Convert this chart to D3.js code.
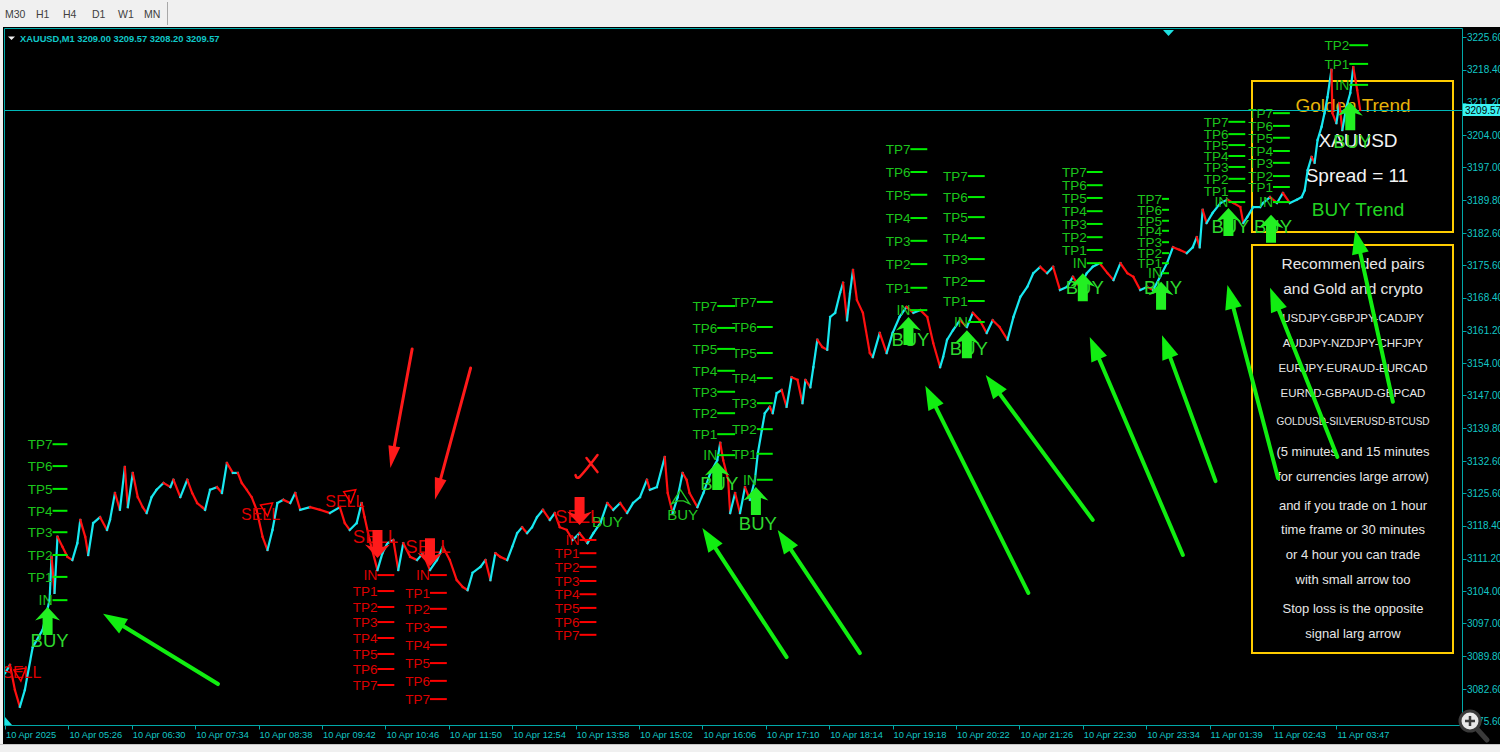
<!DOCTYPE html>
<html><head><meta charset="utf-8">
<script src="https://cdn.jsdelivr.net/npm/d3@7"></script>
<style>
html,body{margin:0;padding:0;background:#f0f0f0;overflow:hidden}
svg{display:block}
</style></head><body>
<svg id="c" width="1500" height="752"></svg>
<script>
// ---------------- DATA ----------------
const toolbarLabels = ["M30","H1","H4","D1","W1","MN"];
const symbolTitle = "XAUUSD,M1  3209.00 3209.57 3208.20 3209.57";
const priceTicks = [3225.60,3218.40,3211.20,3204.00,3197.00,3189.80,3182.60,3175.60,3168.40,3161.20,3154.00,3147.00,3139.80,3132.60,3125.60,3118.40,3111.20,3104.00,3097.00,3089.80,3082.60,3075.60];
const timeLabels = ["10 Apr 2025","10 Apr 05:26","10 Apr 06:30","10 Apr 07:34","10 Apr 08:38","10 Apr 09:42","10 Apr 10:46","10 Apr 11:50","10 Apr 12:54","10 Apr 13:58","10 Apr 15:02","10 Apr 16:06","10 Apr 17:10","10 Apr 18:14","10 Apr 19:18","10 Apr 20:22","10 Apr 21:26","10 Apr 22:30","10 Apr 23:34","11 Apr 01:39","11 Apr 02:43","11 Apr 03:47"];
const barsPerLabel = 64;
const lastPrice = 3209.57;

// price path: [bar index, price]
const pricePath = [
[0,3086.1],[5,3087.9],[10,3082.4],[15,3078.7],[20,3082.4],[28,3091.8],[38,3095.6],[45,3102.1],[47,3111.6],[50,3103.7],
[53,3116.0],[58,3113.8],[63,3111.6],[68,3110.9],[73,3114.6],[76,3119.7],[81,3116.0],[84,3112.0],[89,3119.0],[96,3120.3],
[103,3117.5],[106,3119.7],[111,3125.6],[116,3121.9],[121,3131.3],[124,3122.5],[129,3130.0],[134,3124.7],[139,3122.5],[143,3121.2],
[148,3124.7],[153,3126.3],[160,3127.8],[167,3126.9],[170,3128.5],[177,3124.7],[184,3128.5],[189,3125.6],[194,3123.4],[199,3122.5],
[202,3121.9],[207,3126.3],[214,3126.9],[219,3125.6],[224,3132.2],[230,3130.0],[235,3130.0],[239,3127.8],[244,3126.3],[249,3124.7],
[254,3121.9],[260,3116.0],[265,3113.1],[270,3117.5],[275,3123.4],[281,3124.1],[288,3123.4],[293,3125.6],[298,3121.9],[308,3122.5],
[318,3121.9],[328,3121.2],[338,3122.5],[343,3119.0],[348,3117.5],[355,3119.0],[360,3123.4],[363,3120.3],[368,3115.3],[376,3108.7],
[381,3112.4],[386,3114.6],[392,3115.3],[397,3108.7],[402,3114.6],[409,3111.6],[416,3110.9],[422,3112.4],[429,3108.7],[436,3110.9],
[442,3113.8],[449,3110.9],[456,3106.5],[462,3105.0],[467,3104.3],[472,3108.1],[480,3109.4],[485,3110.9],[490,3106.5],[495,3112.4],
[500,3111.6],[507,3110.9],[512,3113.8],[517,3116.8],[522,3118.1],[527,3116.8],[532,3118.1],[537,3120.3],[543,3121.9],[550,3119.7],
[555,3121.2],[560,3118.1],[567,3117.5],[573,3115.3],[580,3116.8],[588,3114.6],[594,3116.8],[601,3119.0],[608,3123.4],[614,3121.9],
[621,3123.4],[628,3121.2],[634,3123.4],[641,3124.7],[648,3128.5],[651,3126.3],[658,3126.9],[666,3133.5],[669,3125.6],[674,3121.2],
[679,3124.7],[684,3130.0],[688,3128.5],[691,3125.6],[699,3122.5],[705,3125.6],[712,3130.0],[719,3132.8],[722,3136.6],[725,3132.8],
[730,3128.5],[732,3121.2],[737,3125.6],[742,3121.2],[747,3126.9],[752,3124.1],[757,3128.5],[760,3134.4],[764,3139.4],[767,3143.1],
[772,3144.5],[775,3143.1],[779,3147.5],[784,3148.2],[789,3144.5],[794,3151.0],[800,3150.4],[805,3145.3],[808,3150.4],[813,3148.8],
[816,3153.2],[820,3159.2],[825,3157.6],[830,3157.0],[833,3164.2],[838,3165.1],[843,3169.5],[846,3171.7],[850,3163.5],[853,3169.5],
[856,3174.5],[860,3167.9],[866,3165.1],[873,3156.3],[876,3155.4],[883,3160.7],[890,3156.3],[896,3160.7],[903,3164.2],[910,3166.4],
[917,3165.1],[924,3165.7],[931,3164.2],[937,3158.5],[944,3153.2],[947,3155.4],[951,3159.2],[957,3161.3],[964,3163.5],[971,3162.0],
[977,3165.1],[984,3163.5],[991,3160.7],[997,3163.5],[1004,3162.0],[1012,3159.2],[1018,3164.2],[1025,3168.6],[1032,3170.8],[1038,3173.8],
[1045,3175.2],[1052,3173.8],[1058,3175.2],[1065,3170.1],[1072,3170.8],[1078,3173.0],[1085,3170.8],[1092,3173.8],[1098,3175.2],[1105,3176.0],
[1113,3173.8],[1119,3172.3],[1126,3176.0],[1133,3173.8],[1139,3173.0],[1146,3170.1],[1153,3170.8],[1159,3170.1],[1166,3173.0],[1173,3176.0],
[1179,3179.5],[1186,3178.9],[1193,3178.2],[1199,3179.5],[1203,3181.7],[1206,3179.5],[1209,3187.7],[1213,3184.8],[1219,3187.0],[1227,3189.2],
[1234,3189.9],[1240,3189.2],[1247,3188.3],[1250,3184.8],[1254,3186.1],[1260,3188.3],[1267,3188.3],[1270,3189.2],[1277,3190.5],[1284,3189.2],
[1290,3191.4],[1297,3189.2],[1304,3189.9],[1309,3190.5],[1312,3192.0],[1315,3196.4],[1319,3199.3],[1322,3198.0],[1325,3203.0],[1329,3205.9],
[1332,3208.9],[1335,3212.4],[1339,3218.4],[1340,3208.9],[1344,3206.7],[1347,3211.1],[1350,3205.2],[1354,3210.2],[1358,3213.3],[1361,3219.0],
[1365,3214.0],[1368,3209.6]
];

// entry / take-profit level groups (levels[0] = IN)
const tpGroups = [
 {side:"buy",  from:48,   to:63,   levels:[3102.1,3107.2,3112.0,3117.0,3121.7,3126.5,3131.5,3136.3]},
 {side:"sell", from:376,  to:393,  levels:[3107.6,3104.1,3100.6,3097.3,3093.8,3090.3,3087.0,3083.5]},
 {side:"sell", from:429,  to:446,  levels:[3107.6,3103.7,3100.2,3096.2,3092.3,3088.3,3084.4,3080.4]},
 {side:"sell", from:580,  to:597,  levels:[3115.3,3112.4,3109.4,3106.3,3103.4,3100.4,3097.3,3094.5]},
 {side:"buy",  from:719,  to:737,  levels:[3133.9,3138.5,3143.1,3147.8,3152.4,3157.2,3161.8,3166.6]},
 {side:"buy",  from:759,  to:775,  levels:[3128.5,3134.2,3139.6,3145.3,3150.8,3156.3,3162.0,3167.5]},
 {side:"buy",  from:914,  to:931,  levels:[3165.7,3170.6,3175.8,3180.9,3185.9,3191.0,3196.0,3201.0]},
 {side:"buy",  from:972,  to:989,  levels:[3163.1,3167.7,3172.1,3176.9,3181.5,3186.1,3190.5,3195.1]},
 {side:"buy",  from:1092, to:1108, levels:[3176.0,3178.9,3181.7,3184.6,3187.4,3190.3,3193.1,3196.0]},
 {side:"buy",  from:1168, to:1175, levels:[3173.8,3176.0,3178.2,3180.6,3183.1,3185.3,3187.7,3190.1]},
 {side:"buy",  from:1235, to:1252, levels:[3189.4,3191.8,3194.5,3197.1,3199.5,3201.9,3204.3,3207.0]},
 {side:"buy",  from:1280, to:1297, levels:[3189.4,3192.7,3195.1,3198.0,3200.6,3203.5,3206.1,3208.9]},
 {side:"buy",  from:1357, to:1376, levels:[3215.1,3219.7,3223.8]}
];

// large signal arrows
const bigBuySignals = [
 {idx:43,price:3100.6,textPrice:3091.8},{idx:719,price:3132.4,textPrice:3126.3},{idx:758,price:3126.9,textPrice:3117.5},
 {idx:912,price:3164.2,textPrice:3157.8},{idx:971,price:3161.3,textPrice:3155.9},{idx:1088,price:3173.8,textPrice:3169.2},
 {idx:1167,price:3171.9,textPrice:3169.2},{idx:1235,price:3188.1,textPrice:3182.6},{idx:1278,price:3186.6,textPrice:3182.6},
 {idx:1358,price:3211.3,textPrice:3201.3}
];
const bigSellSignals = [
 {idx:376,price:3117.5,textIdx:374,textPrice:3114.6},
 {idx:429,price:3115.7,textIdx:427,textPrice:3112.4},
 {idx:580,price:3124.7,textIdx:578,textPrice:3119.0}
];
// small signals
const smallSellSignals = [
 {idx:17,textPrice:3085.0,arrowIdx:15,arrowPrice:3087.2},
 {idx:258,textPrice:3119.7,arrowIdx:264,arrowPrice:3123.4},
 {idx:343,textPrice:3122.5,arrowIdx:348,arrowPrice:3126.3}
];
const smallBuySignals = [
 {idx:608,textPrice:3118.1,arrowPrice:null},
 {idx:684,textPrice:3119.7,arrowPrice:3126.3}
];
// hand-drawn annotation arrows: tail -> tip
const redArrows = [
 {i1:411,p1:3157.2,i2:389,p2:3131.1},
 {i1:470,p1:3153.0,i2:434,p2:3124.1}
];
const greenArrows = [
 {i1:215,p1:3083.7,i2:99,p2:3099.1},
 {i1:789,p1:3089.6,i2:704,p2:3117.9},
 {i1:863,p1:3090.5,i2:780,p2:3117.5},
 {i1:1033,p1:3103.7,i2:929,p2:3149.1},
 {i1:1098,p1:3119.7,i2:990,p2:3151.5},
 {i1:1189,p1:3112.0,i2:1095,p2:3159.8},
 {i1:1222,p1:3128.2,i2:1168,p2:3160.2},
 {i1:1285,p1:3128.9,i2:1234,p2:3171.2},
 {i1:1345,p1:3133.5,i2:1277,p2:3170.6},
 {i1:1401,p1:3145.6,i2:1363,p2:3183.3}
];
const crossMark = {idx:588,price:3131.5};

const trendBoxLines = [
 {text:"Golden Trend", kind:"gold"},
 {text:"XAUUSD", kind:"white"},
 {text:"Spread = 11", kind:"white"},
 {text:"BUY Trend", kind:"green"}
];
const infoLines = [
 {text:"Recommended pairs", size:15.5},
 {text:"and Gold and crypto", size:15.5},
 {text:"USDJPY-GBPJPY-CADJPY", size:11.5},
 {text:"AUDJPY-NZDJPY-CHFJPY", size:11.5},
 {text:"EURJPY-EURAUD-EURCAD", size:11.5},
 {text:"EURND-GBPAUD-GBPCAD", size:11.5},
 {text:"GOLDUSD-SILVERUSD-BTCUSD", size:10},
 {text:"(5 minutes and 15 minutes", size:13},
 {text:"for currencies large arrow)", size:13},
 {text:"and if you trade on 1 hour", size:13},
 {text:"time frame or 30 minutes", size:13},
 {text:"or 4 hour you can trade", size:13},
 {text:"with small arrow too", size:13},
 {text:"Stop loss is the opposite", size:13},
 {text:"signal larg arrow", size:13}
];
const infoBaselines = [269,294,322,347,372,397,425,456,481,510,534,559,584,613,638];

// ---------------- DRAW ----------------
const FONT = "'Liberation Sans', Arial, sans-serif";
const AXC = "#13c6c6", FRAME = "#00a8a8";
const UP = "#18e8f0", DOWN = "#ff1010";
const GTXT = "#1cc41c", GLINE = "#00f000", RTXT = "#dd0000", RLINE = "#ff0000";
const svg = d3.select("#c");

const plot = {left:4.5, top:28.5, right:1462.5, bottom:725.5};
const x = d3.scaleLinear().domain([0, barsPerLabel*(timeLabels.length-1)]).range([5, 1336.4]);
const y = d3.scaleLinear().domain([3075.6, 3225.6]).range([721, 37]);

// chrome
svg.append("rect").attr("x",0).attr("y",0).attr("width",1500).attr("height",27).attr("fill","#f0f0f0");
svg.append("line").attr("x1",167.5).attr("x2",167.5).attr("y1",2).attr("y2",25).attr("stroke","#a8a8a8");
const tbX = [5,36,63,92,118,144];
svg.selectAll("text.tb").data(toolbarLabels).join("text").attr("class","tb")
  .attr("x",(d,i)=>tbX[i]).attr("y",18).attr("font-family",FONT).attr("font-size",10.5).attr("fill","#404040").text(d=>d);
svg.append("rect").attr("x",3).attr("y",27).attr("width",1497).attr("height",717).attr("fill","#000");
svg.append("rect").attr("x",0).attr("y",744).attr("width",1500).attr("height",8).attr("fill","#f0f0f0");
svg.append("line").attr("x1",0).attr("x2",1500).attr("y1",744.5).attr("y2",744.5).attr("stroke","#c8c8c8");

// frame
const fr = svg.append("g").attr("stroke",FRAME).attr("stroke-width",1).attr("fill","none");
fr.append("path").attr("d",`M${plot.left},${plot.bottom}V${plot.top}H${plot.right}V${plot.bottom}H${plot.left}`);

const defs = svg.append("defs");
defs.append("clipPath").attr("id","clip").append("rect")
  .attr("x",plot.left+0.5).attr("y",plot.top+0.5).attr("width",plot.right-plot.left-1).attr("height",plot.bottom-plot.top-1);

// info boxes (behind chart content)
const boxes = svg.append("g").attr("clip-path","url(#clip)");
boxes.append("rect").attr("x",1252).attr("y",81).attr("width",201).attr("height",151)
  .attr("fill","none").attr("stroke","#ffcc00").attr("stroke-width",2);
boxes.append("rect").attr("x",1252).attr("y",245).attr("width",201).attr("height",408)
  .attr("fill","none").attr("stroke","#ffcc00").attr("stroke-width",2);
const tbColors = {gold:"#e8b40a", white:"#f4f4f4", green:"#22d422"};
const tbY = [112,147,182,216], tbCx=[1353,1358,1357,1358];
boxes.selectAll("text.tr").data(trendBoxLines).join("text").attr("class","tr")
  .attr("x",(d,i)=>tbCx[i]).attr("y",(d,i)=>tbY[i]).attr("text-anchor","middle")
  .attr("font-family",FONT).attr("font-size",19).attr("fill",d=>tbColors[d.kind]).text(d=>d.text);
boxes.selectAll("text.info").data(infoLines).join("text").attr("class","info")
  .attr("x",1353).attr("y",(d,i)=>infoBaselines[i]).attr("text-anchor","middle")
  .attr("font-family",FONT).attr("font-size",d=>d.size).attr("fill","#e6e6e6").text(d=>d.text);

const g = svg.append("g").attr("clip-path","url(#clip)");

// current price line
g.append("line").attr("x1",plot.left).attr("x2",plot.right).attr("y1",Math.round(y(lastPrice))+0.5).attr("y2",Math.round(y(lastPrice))+0.5)
  .attr("stroke","#00b8b8").attr("stroke-width",1);

// price path
const segs = d3.pairs(pricePath);
g.append("g").selectAll("line").data(segs).join("line")
  .attr("x1",d=>x(d[0][0])).attr("y1",d=>y(d[0][1]))
  .attr("x2",d=>x(d[1][0])).attr("y2",d=>y(d[1][1]))
  .attr("stroke",d=>d[1][1]>=d[0][1]?UP:DOWN).attr("stroke-width",2.2).attr("stroke-linecap","square");

// TP groups
tpGroups.forEach(grp=>{
  const tc = grp.side==="buy"?GTXT:RTXT, lc = grp.side==="buy"?GLINE:RLINE;
  const gg = g.append("g");
  grp.levels.forEach((p,k)=>{
    const yy = y(p);
    gg.append("line").attr("x1",x(grp.from)).attr("x2",x(grp.to)).attr("y1",yy).attr("y2",yy)
      .attr("stroke",lc).attr("stroke-width",2);
    gg.append("text").attr("x",x(grp.from)).attr("y",yy+5).attr("text-anchor","end")
      .attr("font-family",FONT).attr("font-size",k===0?14:13.5).attr("fill",tc).text(k===0?"IN":"TP"+k);
  });
});

// big arrow shapes
const upArrow = "M0,0L12.5,13.5L5,11L5,28L-5,28L-5,11L-12.5,13.5Z";
const downArrow = "M0,0L12.5,-13.5L5,-11L5,-28L-5,-28L-5,-11L-12.5,-13.5Z";

// small signals
smallSellSignals.forEach(s=>{
  g.append("text").attr("x",x(s.idx)).attr("y",y(s.textPrice)).attr("text-anchor","middle")
    .attr("font-family",FONT).attr("font-size",16).attr("fill",RTXT).text("SELL");
  const ax=x(s.arrowIdx), ay=y(s.arrowPrice);
  g.append("path").attr("d",`M${ax-6},${ay+2}L${ax+6},${ay}L${ax+1},${ay+13}Z`)
    .attr("fill","none").attr("stroke",RLINE).attr("stroke-width",1.5);
});
smallBuySignals.forEach(s=>{
  g.append("text").attr("x",x(s.idx)).attr("y",y(s.textPrice)).attr("text-anchor","middle")
    .attr("font-family",FONT).attr("font-size",15).attr("fill","#22c822").text("BUY");
  if(s.arrowPrice!==null){
    const ax=x(s.idx)-2, ay=y(s.arrowPrice);
    g.append("path").attr("d",`M${ax},${ay}L${ax+9},${ay+14}L${ax+3},${ay+11}L${ax-3},${ay+11}L${ax-9},${ay+14}Z`)
      .attr("fill","none").attr("stroke","#22c822").attr("stroke-width",1.3);
  }
});

// big signals: text then arrow
bigBuySignals.forEach(s=>{
  g.append("text").attr("x",x(s.idx)+2).attr("y",y(s.textPrice)).attr("text-anchor","middle")
    .attr("font-family",FONT).attr("font-size",18.5).attr("fill","#2ed82e").text("BUY");
});
bigSellSignals.forEach(s=>{
  g.append("text").attr("x",x(s.textIdx)).attr("y",y(s.textPrice)).attr("text-anchor","middle")
    .attr("font-family",FONT).attr("font-size",18.5).attr("fill",RTXT).text("SELL");
});
g.append("g").selectAll("path").data(bigBuySignals).join("path")
  .attr("transform",d=>`translate(${x(d.idx)},${y(d.price)})`).attr("d",upArrow).attr("fill","#22f022");
g.append("g").selectAll("path").data(bigSellSignals).join("path")
  .attr("transform",d=>`translate(${x(d.idx)},${y(d.price)+28})`).attr("d",downArrow).attr("fill","#ff1a1a");

// red X
{
  const cx=x(crossMark.idx), cy=y(crossMark.price);
  g.append("path").attr("d",`M${cx-1},${cy-8}L${cx+10},${cy+6}M${cx+10},${cy-11}C${cx+4},${cy-3} ${cx-3},${cy+6} ${cx-8},${cy+11}Q${cx-11},${cy+13} ${cx-12},${cy+9}`)
    .attr("fill","none").attr("stroke","#ff1a1a").attr("stroke-width",2.5).attr("stroke-linecap","round");
}

// annotation arrows
function drawArrow(sel,a,color,w,hl,hw){
  const x1=x(a.i1),y1=y(a.p1),x2=x(a.i2),y2=y(a.p2);
  const L=Math.hypot(x2-x1,y2-y1), ux=(x2-x1)/L, uy=(y2-y1)/L;
  const bx=x2-ux*hl, by=y2-uy*hl;
  sel.append("line").attr("x1",x1).attr("y1",y1).attr("x2",bx+ux*2).attr("y2",by+uy*2)
    .attr("stroke",color).attr("stroke-width",w).attr("stroke-linecap","round");
  sel.append("path").attr("d",`M${x2},${y2}L${bx-uy*hw},${by+ux*hw}L${bx+uy*hw},${by-ux*hw}Z`).attr("fill",color);
}
const ann = svg.append("g").attr("clip-path","url(#clip)");
redArrows.forEach(a=>drawArrow(ann,a,"#ff1a1a",3,22,6));
greenArrows.forEach(a=>drawArrow(ann,a,"#11ee11",4,24,8.5));

// shift marker & start marker
svg.append("path").attr("d","M1163,30L1174,30L1168.5,36Z").attr("fill","#1ee0e0");
svg.append("path").attr("d","M5,717L5,725L12,725Z").attr("fill","#1ee0e0");

// title
svg.append("path").attr("d","M8,36.5L15,36.5L11.5,40Z").attr("fill","#f0f0f0");
svg.append("text").attr("x",20).attr("y",41.5).attr("font-family",FONT).attr("font-size",9.3).attr("font-weight","bold")
  .attr("fill","#10c8c8").text(symbolTitle);

// price axis
const pa = svg.append("g");
pa.selectAll("line").data(priceTicks).join("line")
  .attr("x1",plot.right).attr("x2",plot.right+4).attr("y1",d=>Math.round(y(d))+0.5).attr("y2",d=>Math.round(y(d))+0.5)
  .attr("stroke",FRAME);
pa.selectAll("text").data(priceTicks).join("text")
  .attr("x",1467).attr("y",d=>y(d)+3.5).attr("font-family",FONT).attr("font-size",10).attr("fill",AXC)
  .text(d=>d.toFixed(2));
// last price label
svg.append("rect").attr("x",1463).attr("y",Math.round(y(lastPrice))-6).attr("width",37).attr("height",12).attr("fill","#3cf2f2");
svg.append("text").attr("x",1465).attr("y",y(lastPrice)+3.5).attr("font-family",FONT).attr("font-size",10).attr("fill","#000")
  .text(lastPrice.toFixed(2));

// time axis
const ta = svg.append("g");
ta.selectAll("line").data(timeLabels).join("line")
  .attr("x1",(d,i)=>Math.round(x(i*barsPerLabel))+0.5).attr("x2",(d,i)=>Math.round(x(i*barsPerLabel))+0.5)
  .attr("y1",plot.bottom).attr("y2",plot.bottom+4).attr("stroke",FRAME);
ta.selectAll("text").data(timeLabels).join("text")
  .attr("x",(d,i)=>x(i*barsPerLabel)+1).attr("y",738).attr("font-family",FONT).attr("font-size",9.3).attr("fill",AXC)
  .text(d=>d);

// zoom magnifier icon
const mg = svg.append("g");
mg.append("line").attr("x1",1477).attr("y1",729).attr("x2",1487).attr("y2",740).attr("stroke","#3a3a3a").attr("stroke-width",5).attr("stroke-linecap","round");
mg.append("circle").attr("cx",1470).attr("cy",721).attr("r",10).attr("fill","#e8e8e8").attr("stroke","#3a3a3a").attr("stroke-width",3);
mg.append("path").attr("d","M1465,721H1475M1470,716V726").attr("stroke","#3a3a3a").attr("stroke-width",2.5);
</script>
</body></html>
